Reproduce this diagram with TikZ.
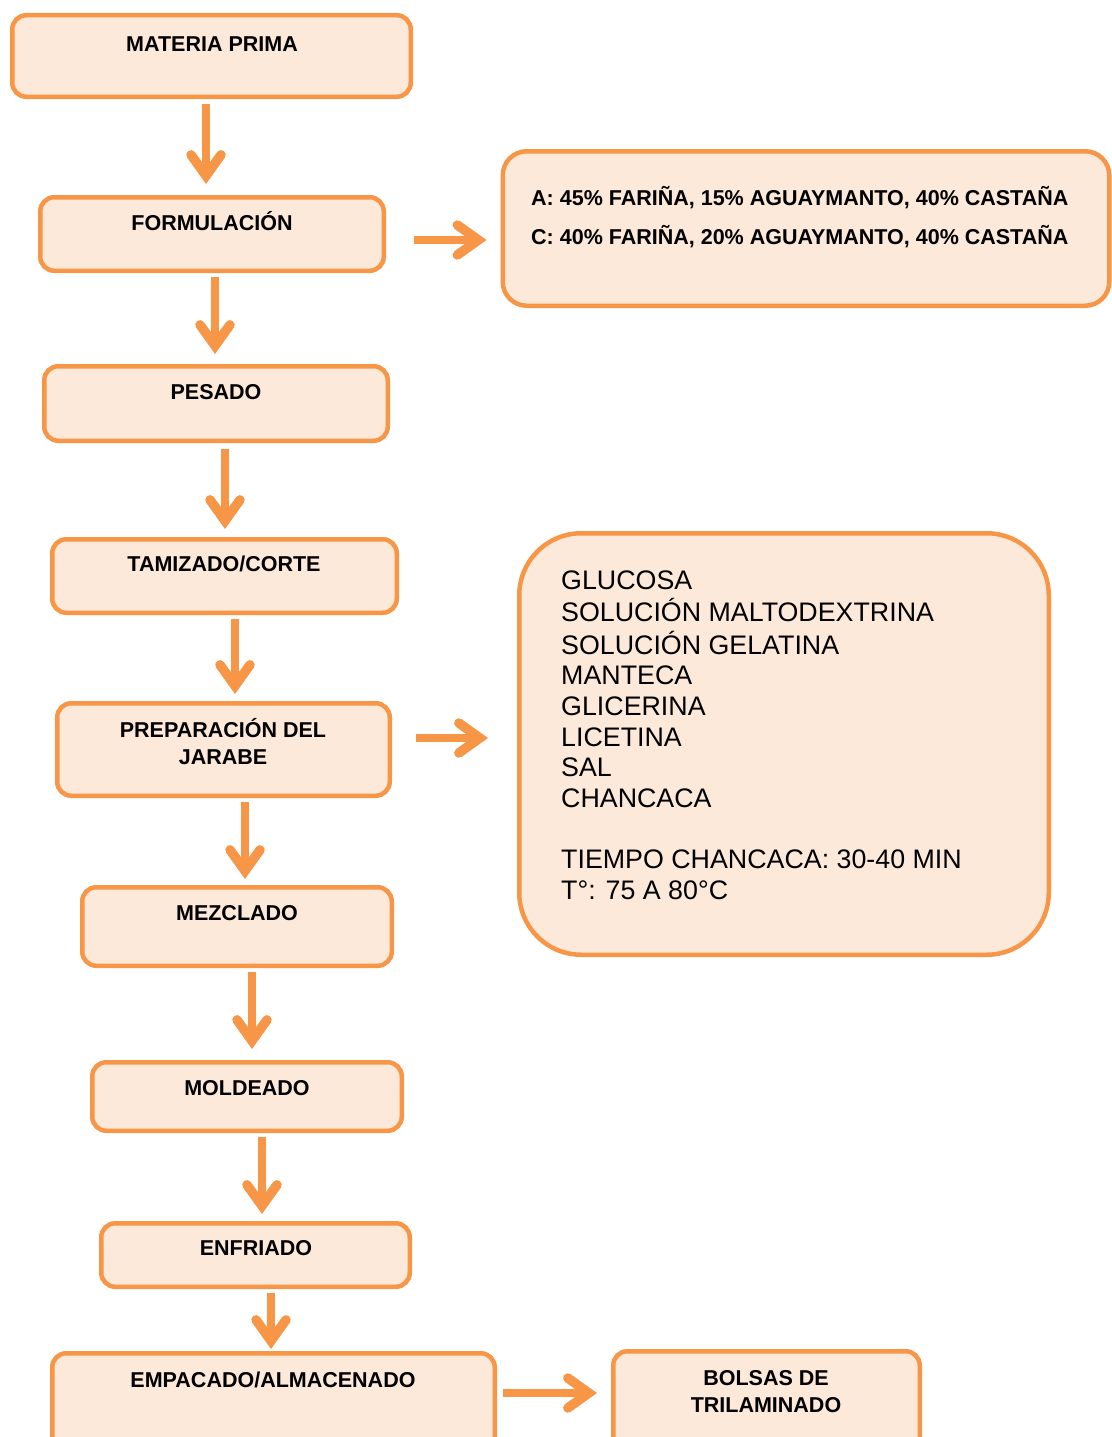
\documentclass[tikz,border=0pt]{standalone}
\usepackage{fontspec}
\setmainfont{Liberation Sans}
\usetikzlibrary{arrows.meta,calc}
\definecolor{org}{HTML}{F79646}
\definecolor{lfill}{HTML}{FDE9D9}
\begin{document}
\begin{tikzpicture}[x=1pt,y=-1pt,
  pbox/.style={draw=org, fill=lfill, line width=4.5pt, rounded corners=14pt, inner sep=0pt},
  tl/.style={inner sep=0pt, anchor=base, font=\fontsize{21.5}{27}\selectfont\bfseries},
  arr/.style={draw=org, line width=8pt, -{Straight Barb[length=21pt,width=30pt,line width=9.5pt,line cap=round,line join=miter]}}]
\useasboundingbox (0,0) rectangle (1111,1437);
% boxes
\node[pbox, minimum width=398.5pt, minimum height=81.5pt] (b1) at (211.5,56) {};
\node[pbox, minimum width=343.5pt, minimum height=73.5pt] (b2) at (212,234) {};
\node[pbox, minimum width=343.5pt, minimum height=74.5pt] (b3) at (216,403.5) {};
\node[pbox, minimum width=344.5pt, minimum height=73.5pt] (b4) at (224.5,576) {};
\node[pbox, minimum width=332.5pt, minimum height=92.5pt] (b5) at (223.5,749.5) {};
\node[pbox, minimum width=309.5pt, minimum height=78.5pt] (b6) at (237,926.5) {};
\node[pbox, minimum width=309.5pt, minimum height=68.5pt] (b7) at (247,1096.5) {};
\node[pbox, minimum width=308.5pt, minimum height=63.5pt] (b8) at (255.5,1255) {};
\node[pbox, minimum width=442.5pt, minimum height=114.5pt] (b9) at (273.5,1410.5) {};
\node[pbox, minimum width=306.5pt, minimum height=116.5pt] (b10) at (766.5,1409.5) {};
\node[pbox, rounded corners=24pt, minimum width=606.5pt, minimum height=154.5pt] (bA) at (806,228.5) {};
\node[pbox, rounded corners=62pt, minimum width=529.5pt, minimum height=421.5pt] (bB) at (784,744) {};
% texts
\node[tl] (t1) at (212,51.6) {MATERIA PRIMA};
\node[tl] (t2) at (212,230.6) {FORMULACIÓN};
\node[tl] (t3) at (216,399.6) {PESADO};
\node[tl] (t4) at (224,571.6) {TAMIZADO/CORTE};
\node[tl] (t5) at (223,737.6) {\begin{tabular}[t]{@{}c@{}}PREPARACIÓN DEL\\JARABE\end{tabular}};
\node[tl] (t6) at (237,920.6) {MEZCLADO};
\node[tl] (t7) at (247,1095.6) {MOLDEADO};
\node[tl] (t8) at (256,1255.6) {ENFRIADO};
\node[tl] (t9) at (273,1387.6) {EMPACADO/ALMACENADO};
\node[tl] (t10) at (766,1385.6) {\begin{tabular}[t]{@{}c@{}}BOLSAS DE\\TRILAMINADO\end{tabular}};
\node[tl, anchor=base west, font=\fontsize{21.5}{39}\selectfont\bfseries] (tA) at (531,205.6)
  {\begin{tabular}[t]{@{}l@{}}A: 45\% FARIÑA, 15\% AGUAYMANTO, 40\% CASTAÑA\\C: 40\% FARIÑA, 20\% AGUAYMANTO, 40\% CASTAÑA\end{tabular}};
\node[tl, anchor=base west, font=\fontsize{26.8}{30.6}\selectfont] (tB) at (561,589.5)
  {\begin{tabular}[t]{@{}l@{}}GLUCOSA\\SOLUCIÓN MALTODEXTRINA\\SOLUCIÓN GELATINA\\MANTECA\\GLICERINA\\LICETINA\\SAL\\CHANCACA\\ \\TIEMPO CHANCACA: 30-40 MIN\\T°: 75 A 80°C\end{tabular}};
% arrow columns
\coordinate (x12) at (206,0);
\coordinate (x23) at (215,0);
\coordinate (x34) at (225,0);
\coordinate (x45) at (235,0);
\coordinate (x56) at (245,0);
\coordinate (x67) at (252,0);
\coordinate (x78) at (262,0);
\coordinate (x89) at (271,0);
\coordinate (yA) at (0,240);
\coordinate (yB) at (0,738);
\coordinate (yC) at (0,1393);
% arrows
\draw[arr, shorten <=5pt, shorten >=11pt] (b1.south -| x12) -- (b2.north -| x12);
\draw[arr, shorten <=4pt, shorten >=10pt] (b2.south -| x23) -- (b3.north -| x23);
\draw[arr, shorten <=6pt, shorten >=8pt] (b3.south -| x34) -- (b4.north -| x34);
\draw[arr, shorten <=4pt, shorten >=7pt] (b4.south -| x45) -- (b5.north -| x45);
\draw[arr, shorten <=4pt, shorten >=6pt] (b5.south -| x56) -- (b6.north -| x56);
\draw[arr, shorten <=4pt, shorten >=11pt] (b6.south -| x67) -- (b7.north -| x67);
\draw[arr, shorten <=4pt, shorten >=7pt] (b7.south -| x78) -- (b8.north -| x78);
\draw[arr, shorten <=4pt, shorten >=2pt] (b8.south -| x89) -- (b9.north -| x89);
\draw[arr, shorten <=28pt, shorten >=14pt] (b2.east |- yA) -- (bA.west |- yA);
\draw[arr, shorten <=24pt, shorten >=29pt] (b5.east |- yB) -- (bB.west |- yB);
\draw[arr, shorten <=6pt, shorten >=14pt] (b9.east |- yC) -- (b10.west |- yC);
\end{tikzpicture}
\end{document}
